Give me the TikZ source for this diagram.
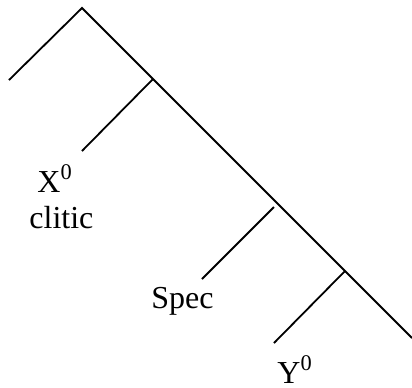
\documentclass[tikz,border=0pt]{standalone}
\usepackage{fontspec}
\setmainfont{Liberation Serif}
\usepackage{tikz}
\usetikzlibrary{positioning}

\begin{document}
\begin{tikzpicture}[
    x=0.5pt, y=-0.5pt,
    branchStyle/.style={draw=black, line width=0.9pt},
    labelStyle/.style={inner sep=0pt, anchor=base west, font=\fontsize{16}{19}\selectfont}
]
    \useasboundingbox (0,0) rectangle (412,387);

    % Tree points
    \coordinate (top) at (82,8);
    \coordinate (leftEnd) at (9,80);
    \coordinate (jX) at (153,79);
    \coordinate (xEnd) at (82,151);
    \coordinate (jSpec) at (274,207);
    \coordinate (specEnd) at (202,279);
    \coordinate (jY) at (345,271);
    \coordinate (yEnd) at (274,343);
    \coordinate (rightEnd) at (412,338);

    % Spine and branches
    \draw[branchStyle] (leftEnd) -- (top) -- (rightEnd);
    \draw[branchStyle] (jX) -- (xEnd);
    \draw[branchStyle] (jSpec) -- (specEnd);
    \draw[branchStyle] (jY) -- (yEnd);

    % Labels
    \node[labelStyle] (xzero) at (37,192) {X\textsuperscript{0}};
    \node[labelStyle] (clitic) at (29,228) {clitic};
    \node[labelStyle] (spec) at (151,308) {Spec};
    \node[labelStyle] (yzero) at (277,383) {Y\textsuperscript{0}};
\end{tikzpicture}
\end{document}
